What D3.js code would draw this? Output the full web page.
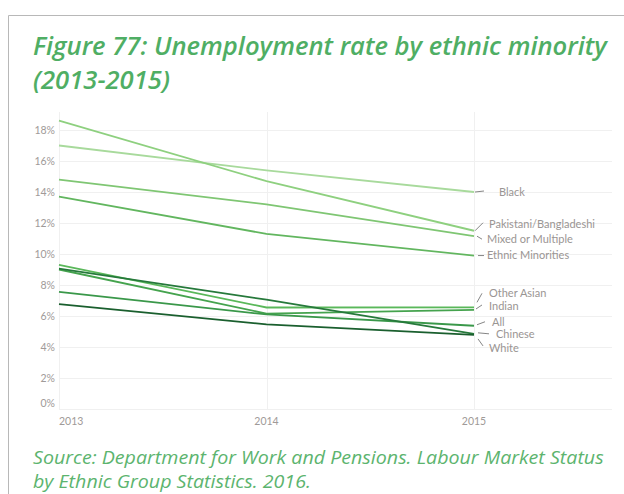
<!DOCTYPE html>
<html>
<head>
<meta charset="utf-8">
<script src="https://cdn.jsdelivr.net/npm/d3@7"></script>
<style>
  body { margin: 0; background: #fff; }
  svg { display: block; }
</style>
</head>
<body>
<div id="chart"></div>
<script>
// data
var years = ['2013', '2014', '2015'];
var groups = ['Black', 'Pakistani/Bangladeshi', 'Mixed or Multiple', 'Ethnic Minorities',
    'Other Asian', 'Indian', 'All', 'Chinese', 'White'];
var black = [17.0, 15.4, 14.0];
var pakistani = [18.6, 14.7, 11.5];
var mixed = [14.8, 13.2, 11.15];
var ethnicMin = [13.7, 11.3, 9.9];
var otherAsian = [9.3, 6.55, 6.56];
var indian = [9.0, 6.15, 6.39];
var all = [7.55, 6.1, 5.37];
var chinese = [9.05, 7.05, 4.85];
var white = [6.77, 5.46, 4.78];
var yTicks = [0, 2, 4, 6, 8, 10, 12, 14, 16, 18];

var series = [black, pakistani, mixed, ethnicMin, otherAsian, indian, all, chinese, white];
var colors = ['#a8da9c', '#8ed07f', '#7fc673', '#62b65f', '#5ab85a', '#45a34e', '#3a984a', '#26793b', '#1a5f2e'];

// label placement: text offset and leader line (relative to 2015 point)
var labelPos = [
    { dx: 25, dy: 0, l: [1, 0, 10, -1] },
    { dx: 15, dy: -7, l: [1, 0, 9, -8] },
    { dx: 13, dy: 3, l: [3, 0, 8, 3] },
    { dx: 13, dy: 0, l: [4, 0, 10, 0] },
    { dx: 15, dy: -14, l: [3, -5, 8, -14] },
    { dx: 15, dy: -4, l: [2, -1, 8, -5] },
    { dx: 18, dy: -4, l: [3, -1, 11, -4] },
    { dx: 22, dy: 0, l: [4, -1, 15, 0] },
    { dx: 15, dy: 13, l: [4, 4, 9, 11] }
];

var W = 624, H = 494;
var margin = { top: 112, left: 59, right: 12, bottom: 84 };

var svg = d3.select('#chart').append('svg')
    .attr('width', W)
    .attr('height', H);

// frame
svg.append('path')
    .attr('d', 'M8.5,' + H + 'V15.5H' + W)
    .attr('fill', 'none')
    .attr('stroke', '#b8b8b8')
    .attr('stroke-width', 1);

// squeeze a two-line text horizontally so its first line fits a given width
function fitText(sel, x0, width) {
    var first = sel.select('tspan').node();
    var natural = first.getComputedTextLength();
    var k = width / natural;
    sel.attr('transform', 'translate(' + x0 + ',0) scale(' + k + ',1)');
}

// title
var titleFont = "'Open Sans', 'Noto Sans', sans-serif";
var title = svg.append('text')
    .attr('font-family', titleFont).attr('font-style', 'italic').attr('font-weight', 600)
    .attr('font-size', 25).attr('fill', '#4fae64');
title.append('tspan').attr('x', 0).attr('y', 55)
    .text('Figure 77: Unemployment rate by ethnic minority');
title.append('tspan').attr('x', 0).attr('y', 89)
    .text('(2013-2015)');
fitText(title, 33, 574);

// source
var source = svg.append('text')
    .attr('font-family', titleFont).attr('font-style', 'italic')
    .attr('font-size', 18).attr('fill', '#5cb46e');
source.append('tspan').attr('x', 0).attr('y', 464)
    .text('Source: Department for Work and Pensions. Labour Market Status');
source.append('tspan').attr('x', 0).attr('y', 488)
    .text('by Ethnic Group Statistics. 2016.');
fitText(source, 33, 571);

var x = d3.scalePoint()
    .domain(years)
    .range([59, 474]);

var y = d3.scaleLinear()
    .domain([0, 18])
    .range([409, 130]);

var plotRight = W - margin.right;

// gridlines
svg.append('g')
    .selectAll('line')
    .data(yTicks)
    .enter().append('line')
    .attr('x1', x('2013')).attr('x2', plotRight)
    .attr('y1', function(d) { return Math.round(y(d)) + 0.5; })
    .attr('y2', function(d) { return Math.round(y(d)) + 0.5; })
    .attr('stroke', '#f0f0f0');

svg.append('g')
    .selectAll('line')
    .data(years)
    .enter().append('line')
    .attr('x1', function(d) { return Math.round(x(d)) + 0.5; })
    .attr('x2', function(d) { return Math.round(x(d)) + 0.5; })
    .attr('y1', margin.top).attr('y2', y(0))
    .attr('stroke', '#f0f0f0');

// y axis labels
var axisFont = "Lato, 'Open Sans', sans-serif";
svg.append('g')
    .selectAll('text')
    .data(yTicks)
    .enter().append('text')
    .attr('x', 55)
    .attr('y', function(d) { return d === 0 ? y(d) - 6 : y(d); })
    .attr('dy', '0.35em')
    .attr('text-anchor', 'end')
    .attr('font-family', axisFont)
    .attr('font-size', 10.5)
    .attr('fill', '#a09a98')
    .text(function(d) { return d + '%'; });

// x axis labels
svg.append('g')
    .selectAll('text')
    .data(years)
    .enter().append('text')
    .attr('x', function(d) { return x(d); })
    .attr('y', 425)
    .attr('text-anchor', function(d, i) { return i === 0 ? 'start' : 'middle'; })
    .attr('font-family', axisFont)
    .attr('font-size', 10.5)
    .attr('fill', '#a09a98')
    .text(function(d) { return d; });

// lines
var line = d3.line()
    .x(function(d, i) { return x(years[i]); })
    .y(function(d) { return y(d); });

svg.append('g')
    .selectAll('path')
    .data(series)
    .enter().append('path')
    .attr('d', line)
    .attr('fill', 'none')
    .attr('stroke', function(d, i) { return colors[i]; })
    .attr('stroke-width', 1.8);

// labels
var lab = svg.append('g')
    .selectAll('g')
    .data(groups)
    .enter().append('g')
    .attr('transform', function(d, i) {
        return 'translate(' + x('2015') + ',' + y(series[i][2]) + ')';
    });

lab.append('line')
    .attr('x1', function(d, i) { return labelPos[i].l[0]; })
    .attr('y1', function(d, i) { return labelPos[i].l[1]; })
    .attr('x2', function(d, i) { return labelPos[i].l[2]; })
    .attr('y2', function(d, i) { return labelPos[i].l[3]; })
    .attr('stroke', '#666')
    .attr('stroke-width', 0.8);

lab.append('text')
    .attr('x', function(d, i) { return labelPos[i].dx; })
    .attr('y', function(d, i) { return labelPos[i].dy; })
    .attr('dy', '0.35em')
    .attr('font-family', axisFont)
    .attr('font-size', 11)
    .attr('fill', '#9a9593')
    .text(function(d) { return d; });
</script>
</body>
</html>
